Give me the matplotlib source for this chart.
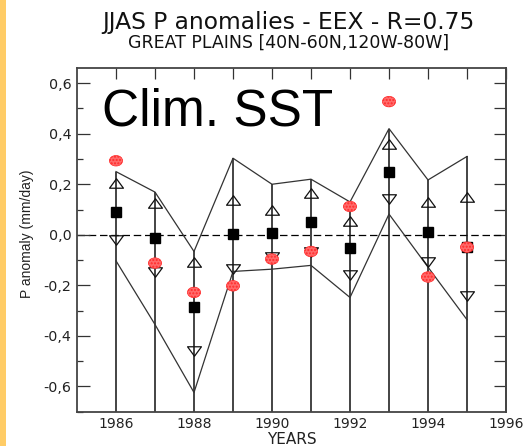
import numpy as np
import matplotlib
matplotlib.use("Agg")
import matplotlib.pyplot as plt
from matplotlib.path import Path
from matplotlib.patches import Rectangle
from matplotlib.ticker import FixedLocator, FuncFormatter

plt.rcParams['font.family'] = ['DejaVu Sans']

# JJAS precipitation anomalies (mm/day), Great Plains
years = [1986, 1987, 1988, 1989, 1990, 1991, 1992, 1993, 1994, 1995]
upper_env = [0.25, 0.169, -0.066, 0.303, 0.20, 0.22, 0.13, 0.42, 0.217, 0.31]
lower_env = [-0.103, -0.355, -0.624, -0.145, -0.136, -0.121, -0.248, 0.082, -0.128, -0.336]
upper_tri = [0.204, 0.125, -0.108, 0.138, 0.099, 0.167, 0.053, 0.359, 0.128, 0.149]
lower_tri = [-0.02, -0.149, -0.458, -0.134, -0.086, -0.07, -0.161, 0.141, -0.108, -0.244]
ens_mean = [0.092, -0.013, -0.284, 0.004, 0.007, 0.049, -0.054, 0.248, 0.011, -0.05]
observed = [0.293, -0.112, -0.228, -0.202, -0.096, -0.066, 0.112, 0.527, -0.167, -0.049]

y_major = [-0.6, -0.4, -0.2, 0.0, 0.2, 0.4, 0.6]
x_labels = [1986, 1988, 1990, 1992, 1994, 1996]

W, H = 527, 446
fig = plt.figure(figsize=(W / 100, H / 100), dpi=100)
fig.patch.set_facecolor('white')
fig.patches.append(Rectangle((0, 0), 6 / W, 1, transform=fig.transFigure,
                             facecolor='#FFCC66', edgecolor='none'))

ax = fig.add_axes([77 / W, 1 - 411.7 / H, 429 / W, 343.7 / H])
ax.set_xlim(1985, 1996)
ax.set_ylim(-0.70, 0.66)

ymin = ax.get_ylim()[0]
# stems from upper envelope down to the bottom of the frame
ax.vlines(years, ymin, upper_env, colors='#111111', lw=1.1, zorder=2)
ax.plot(years, upper_env, color='#333333', lw=0.9, zorder=2)
ax.plot(years, lower_env, color='#333333', lw=0.9, zorder=2)
ax.axhline(0, color='black', lw=0.9, ls=(0, (6, 3)), zorder=1)

tri_up = Path([(0, 0.68), (-1, -0.68), (1, -0.68), (0, 0.68)],
              [Path.MOVETO, Path.LINETO, Path.LINETO, Path.CLOSEPOLY])
tri_dn = Path([(0, -0.68), (-1, 0.68), (1, 0.68), (0, -0.68)],
              [Path.MOVETO, Path.LINETO, Path.LINETO, Path.CLOSEPOLY])
circ = Path.unit_circle()
ellipse = Path(circ.vertices * np.array([1.25, 1.0]), circ.codes)

ax.plot(years, upper_tri, ls='none', marker=tri_up, ms=10, mfc='none',
        mec='#111111', mew=0.9, zorder=3)
ax.plot(years, lower_tri, ls='none', marker=tri_dn, ms=10, mfc='none',
        mec='#111111', mew=0.9, zorder=3)
ax.plot(years, ens_mean, ls='none', marker='s', ms=7.8, mfc='black',
        mec='black', zorder=4)
ax.scatter(years, observed, marker=ellipse, s=9.5 ** 2, facecolor='#ff6a6a',
           edgecolor='#ff2a2a', linewidths=0.5, hatch='.....', zorder=5)

# axes styling
for sp in ax.spines.values():
    sp.set_color('#444444')
    sp.set_linewidth(1.3)

ax.xaxis.set_major_locator(FixedLocator(x_labels))
ax.xaxis.set_minor_locator(FixedLocator(years))
ax.tick_params(axis='x', which='both', bottom=False, top=True, direction='in',
               length=8, width=0.9, color='#333333', labelsize=10,
               labelcolor='#222222', pad=4)

ax.yaxis.set_major_locator(FixedLocator(y_major))
ax.yaxis.set_minor_locator(FixedLocator(np.round(np.arange(-0.7, 0.61, 0.1), 1)))
ax.yaxis.set_major_formatter(FuncFormatter(lambda v, p: f"{v:.1f}".replace('.', ',')))
ax.tick_params(axis='y', which='major', left=True, right=False, direction='in',
               length=9, width=0.9, color='#333333', labelsize=10.3,
               labelcolor='#222222', pad=4)
ax.tick_params(axis='y', which='minor', left=True, right=False, direction='in',
               length=4.5, width=0.9, color='#333333')

sec = ax.secondary_yaxis('right')
sec.set_yticks(np.round(np.arange(-0.6, 0.61, 0.1), 1))
sec.tick_params(direction='in', length=9, width=0.9, color='#333333',
                labelright=False)
sec.spines['right'].set_color('#444444')
sec.spines['right'].set_linewidth(1.3)

fig.text(0.548, 1 - 22 / H, 'JJAS P anomalies - EEX - R=0.75', ha='center',
         va='center', fontsize=16.8, color='#111111')
fig.text(0.548, 1 - 42.5 / H, 'GREAT PLAINS [40N-60N,120W-80W]', ha='center',
         va='center', fontsize=12.5, color='#111111')
fig.text(102 / W, 1 - 126 / H, 'Clim. SST', ha='left', va='baseline',
         fontsize=37, color='black', family='Liberation Sans')
fig.text(292 / W, 1 - 439 / H, 'YEARS', ha='center', va='center',
         fontsize=11, color='#222222')
fig.text(27 / W, 1 - 233.5 / H, 'P anomaly (mm/day)', ha='center', va='center',
         rotation=90, fontsize=10, color='#222222', family='Liberation Sans')

fig.savefig('out.png', dpi=100)
